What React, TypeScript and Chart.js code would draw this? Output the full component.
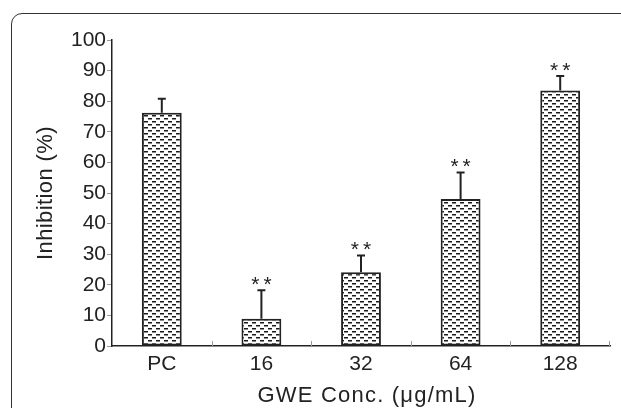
import React, { useEffect, useRef } from "react";
import { Chart, registerables } from "chart.js";

Chart.register(...registerables);

const categories = ["PC", "16", "32", "64", "128"];
const inhibition = [76.2, 8.9, 24.1, 48.0, 83.5];
const errors = [4.6, 9.3, 5.5, 8.7, 4.7];
const significance = ["", "**", "**", "**", "**"];
const yTickValues = [0, 10, 20, 30, 40, 50, 60, 70, 80, 90, 100];
const xTitle = "GWE Conc. (μg/mL)";
const yTitle = "Inhibition (%)";

const FONT = "'Liberation Sans', Arial, sans-serif";
const INK = "#222";

function makePattern(): CanvasPattern | string {
  const c = document.createElement("canvas");
  c.width = 8;
  c.height = 6;
  const g = c.getContext("2d");
  if (!g) return "#fff";
  g.fillStyle = "#fff";
  g.fillRect(0, 0, 8, 6);
  g.fillStyle = "#1a1a1a";
  g.fillRect(0, 1, 4, 1.5);
  g.fillRect(4, 4, 4, 1.5);
  const p = g.createPattern(c, "repeat");
  return p || "#fff";
}

const overlayPlugin = {
  id: "overlay",
  afterDatasetsDraw(chart: any) {
    const ctx = chart.ctx;
    const meta = chart.getDatasetMeta(0);
    const y = chart.scales.y;
    const x = chart.scales.x;
    const area = chart.chartArea;
    ctx.save();
    // x-axis inner ticks between categories
    ctx.strokeStyle = "#999";
    ctx.lineWidth = 1;
    for (let i = 1; i <= categories.length; i++) {
      const px = i < categories.length
        ? (x.getPixelForValue(i - 1) + x.getPixelForValue(i)) / 2
        : area.right - 1;
      ctx.beginPath();
      ctx.moveTo(Math.round(px) + 0.5, area.bottom);
      ctx.lineTo(Math.round(px) + 0.5, area.bottom - 5);
      ctx.stroke();
    }
    // error bars
    ctx.strokeStyle = INK;
    ctx.lineWidth = 2;
    meta.data.forEach((bar: any, i: number) => {
      const top = y.getPixelForValue(inhibition[i] + errors[i]);
      const base = bar.y;
      ctx.beginPath();
      ctx.moveTo(bar.x, base);
      ctx.lineTo(bar.x, top);
      ctx.moveTo(bar.x - 4, top);
      ctx.lineTo(bar.x + 4, top);
      ctx.stroke();
      if (significance[i]) {
        ctx.fillStyle = INK;
        ctx.font = `21px ${FONT}`;
        ctx.textAlign = "center";
        ctx.textBaseline = "alphabetic";
        (ctx as any).letterSpacing = "4px";
        ctx.fillText(significance[i], bar.x + 2, top + 1);
        (ctx as any).letterSpacing = "0px";
      }
    });
    // titles
    ctx.fillStyle = INK;
    ctx.font = `22px ${FONT}`;
    ctx.textAlign = "center";
    ctx.textBaseline = "middle";
    (ctx as any).letterSpacing = "1.2px";
    ctx.fillText(xTitle, 367, 396);
    (ctx as any).letterSpacing = "0.4px";
    ctx.translate(46, (area.top + area.bottom) / 2);
    ctx.rotate(-Math.PI / 2);
    ctx.fillText(yTitle, 0, 0);
    ctx.restore();
  },
};

export default function App() {
  const ref = useRef<HTMLCanvasElement>(null);
  useEffect(() => {
    document.body.style.margin = "0";
    document.body.style.overflow = "hidden";
    const canvas = ref.current;
    if (!canvas) return;
    const chart = new Chart(canvas, {
      type: "bar",
      data: {
        labels: categories,
        datasets: [
          {
            data: inhibition,
            backgroundColor: makePattern() as any,
            borderColor: INK,
            borderWidth: 2,
            borderSkipped: false,
            categoryPercentage: 1,
            barPercentage: 0.4,
          },
        ],
      },
      options: {
        animation: false,
        responsive: false,
        devicePixelRatio: 1,
        layout: { padding: { top: 40, right: 11, left: 0, bottom: 0 } },
        plugins: { legend: { display: false }, tooltip: { enabled: false } },
        scales: {
          x: {
            grid: { display: false, drawTicks: false },
            border: { display: true, color: INK, width: 1.5 },
            ticks: { color: INK, font: { family: FONT, size: 21 }, padding: 6 },
            afterFit: (s: any) => { s.height = 62; },
          },
          y: {
            min: 0,
            max: 100,
            afterBuildTicks: (s: any) => { s.ticks = yTickValues.map((v) => ({ value: v })); },
            grid: { drawOnChartArea: false, color: "#999", tickLength: 5 },
            border: { display: true, color: INK, width: 1.5 },
            ticks: { color: INK, font: { family: FONT, size: 21 }, padding: 1 },
            afterFit: (s: any) => { s.width = 112; },
          },
        },
      },
      plugins: [overlayPlugin],
    });
    return () => chart.destroy();
  }, []);
  return (
    <div style={{ position: "fixed", left: 0, top: 0, width: 621, height: 408, overflow: "hidden", background: "#fff" }}>
      <div
        style={{
          position: "absolute",
          left: 11,
          top: 13,
          width: 700,
          height: 500,
          border: "1.5px solid #333",
          borderRadius: 11,
        }}
      />
      <canvas ref={ref} width={621} height={408} style={{ position: "absolute", left: 0, top: 0 }} />
    </div>
  );
}
